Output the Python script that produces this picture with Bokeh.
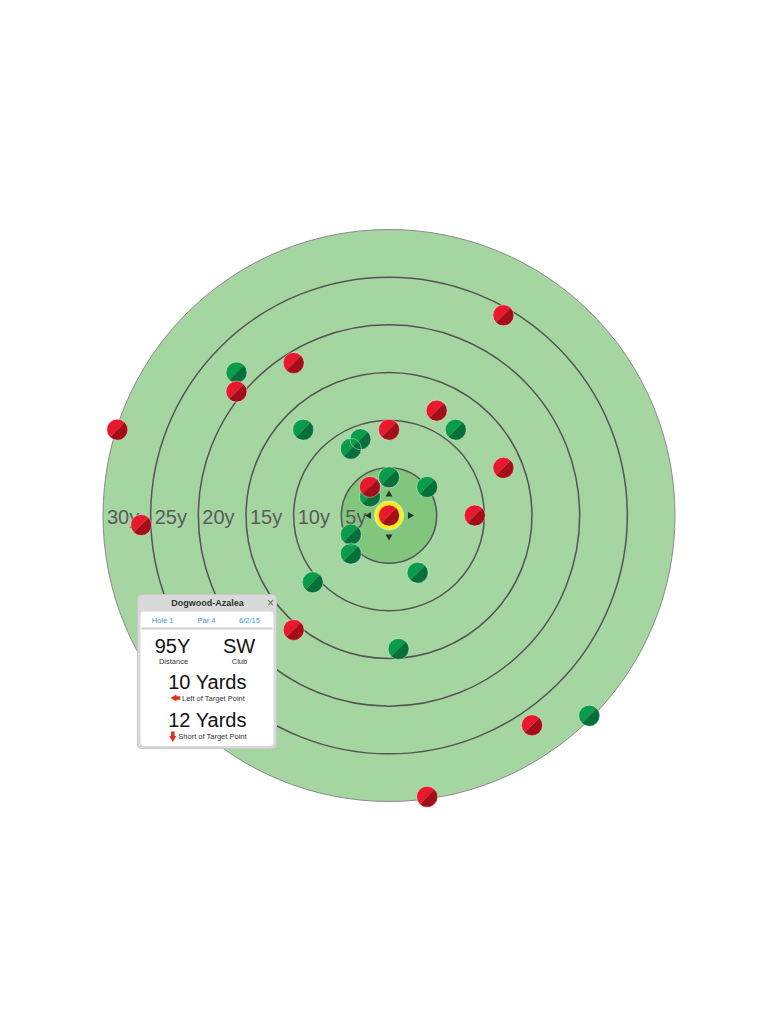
import math
from bokeh.plotting import figure
from bokeh.models import Range1d, BoxAnnotation
from bokeh.core.properties import value
from bokeh.embed import file_html
from bokeh.resources import INLINE

# ---------------- data (yards from target point) ----------------
ring_yards = [30, 25, 20, 15, 10, 5]
ring_labels = ["30y", "25y", "20y", "15y", "10y", "5y"]

green_x = [-16, -9, -4, -3, 7, 0, 4, -2, -4, -4, 3, -8, 1, 21]
green_y = [15, 9, 7, 8, 9, 4, 3, 2, -2, -4, -6, -7, -14, -21]

red_x = [12, -10, -16, -28.5, 5, 0, 12, -2, 9, -26, -10, 15, 4]
red_y = [21, 16, 13, 9, 11, 9, 5, 3, 0, -1, -12, -22, -29.5]

selected_x = [0]
selected_y = [0]

course_name = "Dogwood-Azalea"
hole_label = "Hole 1"
par_label = "Par 4"
date_label = "6/2/15"
distance_label = "95Y"
club_label = "SW"
left_yards = 10
short_yards = 12

# ---------------- layout ----------------
W, H = 760, 1016
CX, CY = 388.5, 515                # centre of target inside the canvas (px)
PPY = 286.0 / 30.0                 # pixels per yard

def xs(px):  # page px -> yards (layout helper for the info panel)
    return (px - CX) / PPY

def ys(py):
    return (CY - py) / PPY

p = figure(width=W, height=H,
           x_range=Range1d(-CX / PPY, (W - CX) / PPY),
           y_range=Range1d(-(H - CY) / PPY, CY / PPY),
           x_axis_type=None, y_axis_type=None,
           output_backend="svg", toolbar_location=None, min_border=0)
p.grid.visible = False
p.outline_line_color = None
p.background_fill_color = "white"
p.border_fill_color = "white"

LIGHT_GREEN = "#a5d5a0"
INNER_GREEN = "#82c67e"
RING = "#555555"

# outer disc
p.circle(x=[0], y=[0], radius=[ring_yards[0]], fill_color=LIGHT_GREEN,
         line_color="#8a8a8a", line_width=1)
# rings
p.circle(x=[0] * 4, y=[0] * 4, radius=ring_yards[1:5], fill_color=None,
         line_color=RING, line_width=1.5)
# inner 5y disc
p.circle(x=[0], y=[0], radius=[ring_yards[5]], fill_color=INNER_GREEN,
         line_color=RING, line_width=1.5)

# ring labels
p.text(x=[-r for r in ring_yards], y=[0] * len(ring_yards), text=ring_labels,
       x_offset=4, y_offset=1, text_align="left", text_baseline="middle",
       text_font=value("Liberation Sans"), text_font_size="20px",
       text_color="#5b5b5b")

# direction triangles around selected shot
tri_dx = [0, 2.2, 0, -2.1]
tri_dy = [2.2, 0, -2.2, 0]
tri_ang = [0, -math.pi / 2, math.pi, math.pi / 2]
p.scatter(x=[selected_x[0] + d for d in tri_dx],
          y=[selected_y[0] + d for d in tri_dy],
          angle=tri_ang, marker="triangle", size=7,
          fill_color="#1c3a28", line_color=None)


def shots(xv, yv, light, dark, r=10.5):
    p.wedge(x=xv, y=yv, radius=r, radius_units="screen",
            start_angle=math.radians(45), end_angle=math.radians(225),
            fill_color=light, line_color=None)
    p.wedge(x=xv, y=yv, radius=r, radius_units="screen",
            start_angle=math.radians(225), end_angle=math.radians(405),
            fill_color=dark, line_color=None)
    p.scatter(x=xv, y=yv, size=2 * r, fill_color=None,
              line_color="white", line_alpha=0.4, line_width=1)


shots(green_x, green_y, "#0a9c4a", "#06703a")
shots(red_x, red_y, "#e8192c", "#a50d18")

# selected shot highlight
p.scatter(x=selected_x, y=selected_y, size=30, fill_color="#fff9a0",
          line_color=None, fill_alpha=0.7)
p.scatter(x=selected_x, y=selected_y, size=27, fill_color="#fff200",
          line_color=None)
shots(selected_x, selected_y, "#e8192c", "#a50d18")

# ---------------- info panel ----------------
panel = BoxAnnotation(left=xs(137), right=xs(276), top=ys(594), bottom=ys(748),
                      fill_color="#d9d9d9", fill_alpha=1.0,
                      line_color="#c8c8c8", line_alpha=1.0, line_width=1,
                      border_radius=4, level="annotation")
body = BoxAnnotation(left=xs(140), right=xs(273), top=ys(611), bottom=ys(745.5),
                     fill_color="white", fill_alpha=1.0, line_color=None,
                     border_radius=4, level="annotation")
p.add_layout(panel)
p.add_layout(body)

FONT = value("Liberation Sans")


def txt(x, y, s, size, color, style="normal", align="center"):
    p.text(x=[x], y=[y], text=[s], text_align=align, text_baseline="middle",
           text_font=FONT, text_font_size=size, text_color=color,
           text_font_style=style, level="overlay")


txt(xs(207), ys(602.5), course_name, "9px", "#333333", "bold")
txt(xs(270), ys(602.5), "\u00d7", "12px", "#666666")
txt(xs(162), ys(620), hole_label, "7.5px", "#3a9ad9")
txt(xs(206), ys(620), par_label, "7.5px", "#3a9ad9")
txt(xs(249), ys(620), date_label, "7.5px", "#3a9ad9")
p.segment(x0=[xs(141)], y0=[ys(628)], x1=[xs(272)], y1=[ys(628)],
          line_color="#d0d0d0", line_width=2, level="overlay")
txt(xs(172), ys(645.5), distance_label, "20px", "#111111")
txt(xs(238.5), ys(645.5), club_label, "20px", "#111111")
txt(xs(173), ys(661), "Distance", "7.5px", "#333333")
txt(xs(239), ys(661), "Club", "7.5px", "#333333")
txt(xs(207), ys(681), f"{left_yards} Yards", "20px", "#111111")
txt(xs(213), ys(697.5), "Left of Target Point", "7.5px", "#333333")
txt(xs(207), ys(719), f"{short_yards} Yards", "20px", "#111111")
txt(xs(212), ys(736), "Short of Target Point", "7.5px", "#333333")

ARROW = "#e0301e"
# left arrow
p.scatter(x=[xs(174)], y=[ys(697.5)], marker="triangle", angle=math.pi / 2,
          size=7, fill_color=ARROW, line_color=None, level="overlay")
p.rect(x=[xs(177.5)], y=[ys(697.5)], width=4.5, height=3.5,
       width_units="screen", height_units="screen",
       fill_color=ARROW, line_color=None, level="overlay")
# down arrow
p.scatter(x=[xs(172.3)], y=[ys(737.5)], marker="triangle", angle=math.pi,
          size=7, fill_color=ARROW, line_color=None, level="overlay")
p.rect(x=[xs(172.3)], y=[ys(733.5)], width=3.5, height=5,
       width_units="screen", height_units="screen",
       fill_color=ARROW, line_color=None, level="overlay")

open("out.html", "w").write(file_html(p, INLINE))
